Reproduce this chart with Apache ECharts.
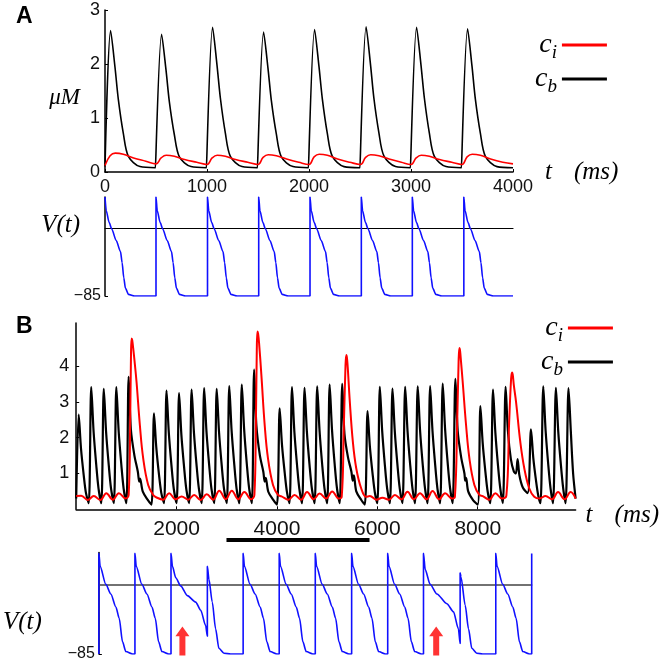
<!DOCTYPE html>
<html><head><meta charset="utf-8">
<script src="https://cdn.jsdelivr.net/npm/echarts@6/dist/echarts.min.js"></script>
<style>html,body{margin:0;padding:0;background:#fff}#c{width:660px;height:662px}</style>
</head><body><div id="c"></div>
<script>
// ---------- Panel A : calcium (uM) vs time (ms) ----------
const ticksAx = [0, 1000, 2000, 3000, 4000];
const ticksAy = [0, 1, 2, 3];
const cbA = [
[0,0.1],[55,2.62],[98,1.94],[131,1.34],[180,0.71],[229,0.29],[343,0.1],[495,0.08],
[500,0.08],[555,2.55],[598,1.89],[631,1.3],[680,0.69],[729,0.28],[843,0.1],[995,0.08],
[1000,0.08],[1055,2.68],[1098,1.98],[1131,1.37],[1180,0.72],[1229,0.29],[1343,0.1],[1495,0.08],
[1500,0.08],[1555,2.59],[1598,1.92],[1631,1.32],[1680,0.7],[1729,0.28],[1843,0.1],[1995,0.08],
[2000,0.08],[2055,2.64],[2098,1.95],[2131,1.35],[2180,0.71],[2229,0.29],[2343,0.1],[2500,0.08],
[2505,0.08],[2560,2.69],[2603,1.99],[2636,1.37],[2685,0.73],[2734,0.3],[2848,0.1],[2995,0.08],
[3000,0.08],[3055,2.68],[3098,1.98],[3131,1.37],[3180,0.72],[3229,0.29],[3343,0.1],[3495,0.08],
[3500,0.08],[3555,2.65],[3598,1.96],[3631,1.35],[3680,0.72],[3729,0.29],[3843,0.1],[4000,0.08]
];
const ciA = [
[0,0.12],[50,0.3],[100,0.35],[180,0.33],[280,0.26],[400,0.2],
[500,0.15],[550,0.26],[600,0.31],[680,0.29],[780,0.23],[900,0.18],
[1000,0.14],[1050,0.26],[1100,0.31],[1180,0.29],[1280,0.23],[1400,0.18],
[1500,0.14],[1550,0.27],[1600,0.32],[1680,0.3],[1780,0.24],[1900,0.18],
[2000,0.14],[2050,0.28],[2100,0.33],[2180,0.31],[2280,0.24],[2400,0.18],
[2505,0.14],[2555,0.27],[2605,0.32],[2685,0.3],[2785,0.24],[2905,0.18],
[3000,0.14],[3050,0.26],[3100,0.31],[3180,0.29],[3280,0.23],[3400,0.18],
[3500,0.14],[3550,0.28],[3600,0.33],[3680,0.31],[3780,0.24],[3900,0.18],[4000,0.15]
];
// Panel A : membrane potential (mV)
const vTicks = [-85];
const vA = [
[0,40],[12,23],[40,8],[65,0],[110,-15],[152,-29],[168,-43],[184,-62],[200,-75],[230,-83],[290,-85],
[500,-85],[500,40],[512,23],[540,8],[565,0],[610,-15],[652,-29],[668,-43],[684,-62],[700,-75],[730,-83],[790,-85],
[1005,-85],[1005,40],[1017,23],[1045,8],[1070,0],[1115,-15],[1157,-29],[1173,-43],[1189,-62],[1205,-75],[1235,-83],[1295,-85],
[1507,-85],[1507,40],[1519,23],[1547,8],[1572,0],[1617,-15],[1659,-29],[1675,-43],[1691,-62],[1707,-75],[1737,-83],[1797,-85],
[2010,-85],[2010,40],[2022,23],[2050,8],[2075,0],[2120,-15],[2162,-29],[2178,-43],[2194,-62],[2210,-75],[2240,-83],[2300,-85],
[2513,-85],[2513,40],[2525,23],[2553,8],[2578,0],[2623,-15],[2665,-29],[2681,-43],[2697,-62],[2713,-75],[2743,-83],[2803,-85],
[3013,-85],[3013,40],[3025,23],[3053,8],[3078,0],[3123,-15],[3165,-29],[3181,-43],[3197,-62],[3213,-75],[3243,-83],[3303,-85],
[3518,-85],[3518,40],[3530,23],[3558,8],[3583,0],[3628,-15],[3670,-29],[3686,-43],[3702,-62],[3718,-75],[3748,-83],[3808,-85],
[4000,-85]
];
// ---------- Panel B ----------
const ticksBx = [2000, 4000, 6000, 8000];
const ticksBy = [1, 2, 3, 4];
const cbB = [
[0,0.3],[50,2.64],[96,1.69],[150,0.95],[195,0.45],
[250,0.17],[300,3.41],[346,2.18],[400,1.23],[445,0.58],
[500,0.17],[550,3.36],[596,2.15],[650,1.21],[695,0.57],
[750,0.17],[800,3.41],[846,2.18],[900,1.23],[945,0.58],
[1000,0.17],[1045,3.70],[1090,2.22],[1160,1.5],[1228,1.05],[1255,0.77],[1272,0.86],[1327,0.49],[1426,0.26],
[1500,0.13],[1550,2.68],[1596,1.72],[1650,0.96],[1695,0.46],
[1750,0.17],[1800,3.31],[1846,2.12],[1900,1.19],[1945,0.56],
[2000,0.17],[2050,3.24],[2096,2.07],[2150,1.17],[2195,0.55],
[2250,0.17],[2300,3.34],[2346,2.14],[2400,1.2],[2445,0.57],
[2500,0.17],[2550,3.38],[2596,2.16],[2650,1.22],[2695,0.57],
[2750,0.17],[2800,3.36],[2846,2.15],[2900,1.21],[2945,0.57],
[3000,0.17],[3050,3.44],[3096,2.2],[3150,1.24],[3195,0.58],
[3250,0.17],[3300,3.48],[3346,2.23],[3400,1.25],[3445,0.59],
[3500,0.17],[3545,3.90],[3590,2.34],[3660,1.5],[3728,1.05],[3755,0.77],[3776,0.88],[3827,0.49],[3926,0.26],
[4000,0.13],[4054,2.82],[4100,1.8],[4154,1.02],[4199,0.48],
[4250,0.17],[4300,3.41],[4346,2.18],[4400,1.23],[4445,0.58],
[4500,0.17],[4550,3.39],[4596,2.17],[4650,1.22],[4695,0.58],
[4750,0.17],[4802,3.43],[4848,2.2],[4902,1.23],[4947,0.58],
[5000,0.17],[5050,3.48],[5096,2.23],[5150,1.25],[5195,0.59],
[5250,0.17],[5300,3.50],[5345,2.1],[5415,1.45],[5483,1.05],[5510,0.8],[5532,0.95],[5580,0.5],[5680,0.26],
[5750,0.13],[5805,2.74],[5851,1.75],[5905,0.99],[5950,0.47],
[6000,0.17],[6050,3.42],[6096,2.19],[6150,1.23],[6195,0.58],
[6250,0.17],[6302,3.37],[6348,2.16],[6402,1.21],[6447,0.57],
[6500,0.17],[6555,3.42],[6601,2.19],[6655,1.23],[6700,0.58],
[6750,0.17],[6805,3.43],[6851,2.2],[6905,1.23],[6950,0.58],
[7000,0.17],[7052,3.44],[7098,2.2],[7152,1.24],[7197,0.58],
[7250,0.17],[7303,3.51],[7349,2.25],[7403,1.26],[7448,0.6],
[7500,0.17],[7555,3.64],[7600,2.2],[7670,1.45],[7735,1.0],[7750,0.8],[7768,0.88],[7810,0.5],[7910,0.25],
[8000,0.13],[8053,2.88],[8099,1.84],[8153,1.04],[8198,0.49],
[8250,0.17],[8305,3.34],[8351,2.14],[8405,1.2],[8450,0.57],
[8500,0.17],[8556,3.42],[8600,2.2],[8660,1.4],[8720,1.05],[8760,1.0],[8794,1.4],[8830,0.95],[8900,0.6],[8995,0.45],
[9061,2.23],[9107,1.43],[9161,0.8],[9206,0.38],
[9250,0.17],[9306,3.43],[9352,2.2],[9406,1.23],[9451,0.58],
[9500,0.17],[9558,3.39],[9604,2.17],[9658,1.22],[9703,0.58],
[9750,0.17],[9809,3.38],[9855,2.16],[9900,1.0],[9950,0.3]
];
const ciB = [
[0,0.37],[100,0.38],[230,0.26],[350,0.37],[480,0.26],[600,0.45],[730,0.27],[850,0.45],[985,0.3],
[1045,0.4],[1075,2.4],[1092,4.35],[1104,4.77],[1116,4.72],[1136,4.49],[1170,4.03],[1203,3.54],[1269,2.34],[1335,1.42],[1434,0.68],[1534,0.4],
[1600,0.33],[1730,0.27],[1850,0.45],[1980,0.28],[2100,0.36],[2230,0.27],[2350,0.4],[2480,0.26],[2600,0.42],[2730,0.27],[2850,0.52],[2980,0.28],[3100,0.52],[3230,0.28],[3350,0.48],[3485,0.28],
[3550,0.4],[3580,2.4],[3598,4.45],[3611,4.96],[3624,4.9],[3643,4.65],[3690,3.73],[3756,2.34],[3821,1.42],[3921,0.68],[4020,0.4],
[4090,0.36],[4230,0.27],[4350,0.4],[4480,0.27],[4600,0.48],[4730,0.28],[4850,0.44],[4980,0.3],[5100,0.5],[5230,0.3],
[5290,0.35],[5330,2.2],[5365,4.0],[5381,4.31],[5395,4.22],[5415,3.85],[5447,3.09],[5512,1.88],[5580,1.14],[5679,0.58],[5779,0.35],
[5850,0.37],[5980,0.27],[6100,0.32],[6230,0.27],[6350,0.4],[6480,0.28],[6600,0.49],[6730,0.28],[6850,0.45],[6980,0.28],[7100,0.51],[7230,0.28],[7350,0.45],[7490,0.3],
[7545,0.35],[7590,2.4],[7620,4.2],[7635,4.5],[7648,4.42],[7665,4.15],[7700,3.56],[7768,2.34],[7834,1.42],[7933,0.68],[8033,0.4],
[8100,0.37],[8230,0.27],[8350,0.45],[8480,0.3],
[8570,0.38],[8625,2.4],[8665,3.65],[8683,3.82],[8698,3.75],[8720,3.45],[8763,3.0],[8848,1.88],[8928,1.14],[9027,0.58],[9126,0.35],
[9230,0.3],[9350,0.37],[9480,0.28],[9600,0.48],[9730,0.28],[9850,0.48],[9950,0.3]
];
// time window shown in the lower V(t) trace of panel B
const windowB = [[2994,-0.86],[5844,-0.86]];
const vB = [
[3000,-85],[3000,39],[3009,23],[3048,1],[3083,-11],[3118,-27],[3141,-41],[3164,-70],[3187,-82],[3233,-85],
[3250,-85],[3250,39],[3259,23],[3298,1],[3333,-11],[3368,-27],[3391,-41],[3414,-70],[3437,-82],[3483,-85],
[3500,-85],[3500,39],[3510,23],[3533,9],[3567,-1],[3613,-13],[3671,-21],[3706,-31],[3740,-50],[3752,-63],
[3752,23],[3763,7],[3786,-21],[3809,-54],[3832,-78],[3867,-84],[3913,-85],
[4000,-85],[4000,39],[4009,23],[4048,1],[4083,-11],[4118,-27],[4141,-41],[4164,-70],[4187,-82],[4233,-85],
[4250,-85],[4250,39],[4259,23],[4298,1],[4333,-11],[4368,-27],[4391,-41],[4414,-70],[4437,-82],[4483,-85],
[4500,-85],[4500,39],[4509,23],[4548,1],[4583,-11],[4618,-27],[4641,-41],[4664,-70],[4687,-82],[4733,-85],
[4752,-85],[4752,39],[4761,23],[4800,1],[4835,-11],[4870,-27],[4893,-41],[4916,-70],[4939,-82],[4985,-85],
[5002,-85],[5002,39],[5011,23],[5050,1],[5085,-11],[5120,-27],[5143,-41],[5166,-70],[5189,-82],[5235,-85],
[5250,-85],[5250,39],[5262,19],[5296,1],[5343,-11],[5412,-23],[5458,-33],[5492,-54],[5504,-72],
[5504,15],[5510,10],[5539,-25],[5562,-54],[5585,-78],[5619,-84],[5660,-85],
[5751,-85],[5751,39],[5760,23],[5799,1],[5834,-11],[5869,-27],[5892,-41],[5915,-70],[5938,-82],[5984,-85],
[6000,-85],[6000,39]
];
// extra stimuli marked by red arrows
const arrowsB = [[3579,-69],[5338,-69]];

const sans = 'Liberation Sans', serif = 'Liberation Serif';
const mathStyle = {fontFamily: serif, fontStyle: 'italic', color: '#000'};
const legendRich = {
  c: Object.assign({fontSize: 28, lineHeight: 34}, mathStyle),
  s: Object.assign({fontSize: 19, lineHeight: 19, verticalAlign: 'bottom'}, mathStyle)
};
const legendFmt = n => n === 'ci' ? '{c|c}{s|i}' : '{c|c}{s|b}';
const plain = v => String(v);
const tickLbl = {fontFamily: sans, fontSize: 18, color: '#111', formatter: plain};
const noSplit = {show: false};
const tmsName = {t: Object.assign({fontSize: 25}, mathStyle), m: Object.assign({fontSize: 25, padding: [0, 0, 0, 22]}, mathStyle)};
const minus85 = {customValues: vTicks, formatter: () => '\u221285', fontFamily: sans, fontSize: 16, color: '#111', margin: 4};

const chart = echarts.init(document.getElementById('c'));
chart.setOption({
  animation: false,
  title: [
    {text: 'A', left: 11, top: 0, textStyle: {fontFamily: sans, fontWeight: 'bold', fontSize: 23, color: '#000'}},
    {text: 'B', left: 11, top: 310, textStyle: {fontFamily: sans, fontWeight: 'bold', fontSize: 23, color: '#000'}}
  ],
  legend: [
    {data: ['ci', 'cb'], left: 535, top: 31, orient: 'vertical', align: 'right', padding: 0, itemGap: 3,
     itemWidth: 45, itemHeight: 3, icon: 'rect', selectedMode: false, formatter: legendFmt,
     textStyle: {width: 20, rich: legendRich}},
    {data: ['ci', 'cb'], left: 541, top: 314, orient: 'vertical', align: 'right', padding: 0, itemGap: 3,
     itemWidth: 45, itemHeight: 3, icon: 'rect', selectedMode: false, formatter: legendFmt,
     textStyle: {width: 22, rich: legendRich}}
  ],
  grid: [
    {left: 105, top: 10, width: 408, height: 162},
    {left: 105, top: 197, width: 408, height: 99},
    {left: 76.2, top: 323, width: 500.5, height: 186.3},
    {left: 98, top: 552.6, width: 433.7, height: 103.4}
  ],
  xAxis: [
    {gridIndex: 0, type: 'value', min: 0, max: 4000,
     axisLine: {lineStyle: {color: '#000', width: 1.5}},
     axisTick: {inside: true, length: 3, customValues: ticksAx, lineStyle: {color: '#000'}},
     axisLabel: Object.assign({customValues: ticksAx, margin: 6}, tickLbl), splitLine: noSplit,
     name: '{t|t}{m|(ms)}', nameLocation: 'end', nameGap: 32, nameMoveOverlap: false,
     nameTextStyle: {rich: tmsName}},
    {gridIndex: 1, type: 'value', min: 0, max: 4000,
     axisLine: {onZero: true, lineStyle: {color: '#000', width: 1.2}},
     axisTick: {show: false}, axisLabel: {show: false}, splitLine: noSplit},
    {gridIndex: 2, type: 'value', min: 0, max: 9950,
     axisLine: {lineStyle: {color: '#000', width: 1.5}},
     axisTick: {inside: true, length: 3, customValues: ticksBx, lineStyle: {color: '#000'}},
     axisLabel: Object.assign({customValues: ticksBx, margin: 9}, tickLbl, {fontSize: 21}), splitLine: noSplit,
     name: '{t|t}{m|(ms)}', nameLocation: 'end', nameGap: 10, nameMoveOverlap: false,
     nameTextStyle: {padding: [12, 0, 0, 0], rich: tmsName}},
    {gridIndex: 3, type: 'value', min: 3000, max: 6000,
     axisLine: {onZero: true, lineStyle: {color: '#444', width: 1.5}},
     axisTick: {show: false}, axisLabel: {show: false}, splitLine: noSplit}
  ],
  yAxis: [
    {gridIndex: 0, type: 'value', min: 0, max: 3,
     axisLine: {show: true, lineStyle: {color: '#000', width: 1.5}},
     axisTick: {show: true, inside: true, length: 3, customValues: ticksAy, lineStyle: {color: '#000'}},
     axisLabel: Object.assign({customValues: ticksAy, margin: 5}, tickLbl), splitLine: noSplit,
     name: '{n|μM}', nameLocation: 'middle', nameRotate: 0, nameGap: 25, nameMoveOverlap: false,
     nameTextStyle: {rich: {n: Object.assign({fontSize: 23, padding: [14, 0, 0, 0]}, mathStyle)}}},
    {gridIndex: 1, type: 'value', min: -85, max: 40,
     axisLine: {show: true, onZero: false, lineStyle: {color: '#000', width: 1.5}},
     axisTick: {show: true, inside: true, length: 3, customValues: vTicks, lineStyle: {color: '#000'}},
     axisLabel: minus85, splitLine: noSplit,
     name: '{n|V(t)}', nameLocation: 'middle', nameRotate: 0, nameGap: 25, nameMoveOverlap: false,
     nameTextStyle: {rich: {n: Object.assign({fontSize: 25, padding: [0, 0, 42, 0]}, mathStyle)}}},
    {gridIndex: 2, type: 'value', min: 0, max: 5.2,
     axisLine: {show: true, lineStyle: {color: '#000', width: 1.5}},
     axisTick: {show: true, inside: true, length: 3, customValues: ticksBy, lineStyle: {color: '#000'}},
     axisLabel: Object.assign({customValues: ticksBy, margin: 7}, tickLbl), splitLine: noSplit},
    {gridIndex: 3, type: 'value', min: -85, max: 40,
     axisLine: {show: true, onZero: false, lineStyle: {color: '#000', width: 1.5}},
     axisTick: {show: true, inside: true, length: 3, customValues: vTicks, lineStyle: {color: '#000'}},
     axisLabel: minus85, splitLine: noSplit,
     name: '{n|V(t)}', nameLocation: 'middle', nameRotate: 0, nameGap: 57, nameMoveOverlap: false,
     nameTextStyle: {rich: {n: Object.assign({fontSize: 25, padding: [38, 0, 0, 0]}, mathStyle)}}}
  ],
  series: [
    {name: 'cb', type: 'line', xAxisIndex: 0, yAxisIndex: 0, data: cbA, color: '#000', symbol: 'none',
     smooth: 0.3, lineStyle: {width: 1.6, color: '#000'}},
    {name: 'ci', type: 'line', xAxisIndex: 0, yAxisIndex: 0, data: ciA, color: '#ff0000', symbol: 'none',
     smooth: 0.4, lineStyle: {width: 1.6, color: '#ff0000'}},
    {name: 'vA', type: 'line', xAxisIndex: 1, yAxisIndex: 1, data: vA, color: '#0000ff', symbol: 'none',
     smooth: 0.25, smoothMonotone: 'x', lineStyle: {width: 1.6, color: '#1010ff'}},
    {name: 'cb', type: 'line', xAxisIndex: 2, yAxisIndex: 2, data: cbB, color: '#000', symbol: 'none',
     smooth: 0.3, lineStyle: {width: 2.2, color: '#000'}},
    {name: 'ci', type: 'line', xAxisIndex: 2, yAxisIndex: 2, data: ciB, color: '#ff0000', symbol: 'none',
     smooth: 0.4, lineStyle: {width: 2, color: '#ff0000'}},
    {name: 'window', type: 'line', xAxisIndex: 2, yAxisIndex: 2, data: windowB, symbol: 'none', clip: false,
     lineStyle: {width: 4, color: '#000'}, silent: true},
    {name: 'vB', type: 'line', xAxisIndex: 3, yAxisIndex: 3, data: vB, color: '#0000ff', symbol: 'none',
     smooth: 0.25, smoothMonotone: 'x', lineStyle: {width: 1.6, color: '#1010ff'}},
    {name: 'stim', type: 'scatter', xAxisIndex: 3, yAxisIndex: 3, data: arrowsB,
     symbol: 'path://M7,0 L14,10 L10,10 L10,30 L4,30 L4,10 L0,10 Z', symbolSize: [14, 29],
     itemStyle: {color: '#ff0000'}, silent: true}
  ]
});
</script></body></html>
